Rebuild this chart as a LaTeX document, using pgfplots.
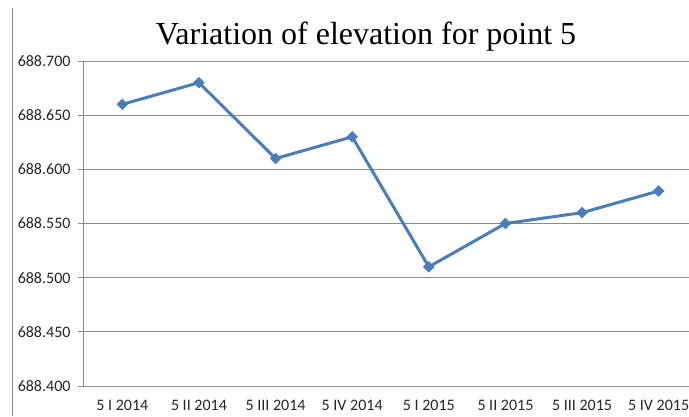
\documentclass[border=0pt]{standalone}
\usepackage{pgfplots}
\pgfplotsset{compat=1.18}
\usepackage{fontspec}
\setmainfont{Liberation Serif}
\newfontfamily\calib{Carlito}
\definecolor{lineblue}{HTML}{4A7EBB}
\definecolor{gridgray}{HTML}{8C8C8C}
\begin{document}
\begin{tikzpicture}[x=1pt,y=1pt]
\useasboundingbox (0,0) rectangle (689,416);
\clip (0,0) rectangle (689,416);
\fill[white] (0,0) rectangle (689,416);
\draw[gridgray,line width=1pt] (12,0) -- (12,408);
\node[anchor=base,font=\fontsize{32}{36}\selectfont] at (366,371) {Variation of elevation for point 5};
\begin{axis}[
  at={(84pt,30pt)}, anchor=south west,
  scale only axis, width=613pt, height=325pt,
  xmin=-0.5, xmax=7.5, ymin=688.4, ymax=688.7,
  axis x line*=bottom, axis y line*=left,
  axis line style={gridgray,line width=1pt},
  ytick={688.40,688.45,688.50,688.55,688.60,688.65,688.70},
  y tick label style={/pgf/number format/fixed,/pgf/number format/fixed zerofill,/pgf/number format/precision=3,/pgf/number format/1000 sep={},xshift=-4pt},
  /pgf/number format/assume math mode=true,
  ymajorgrids, grid style={gridgray,line width=1pt},
  major tick length=6pt,
  tick align=outside,
  tick style={gridgray,line width=1pt},
  xtick={0,...,7},
  xticklabels={5 I 2014,5 II 2014,5 III 2014,5 IV 2014,5 I 2015,5 II 2015,5 III 2015,5 IV 2015},
  x tick style={draw=none},
  extra x ticks={-0.5,0.5,1.5,2.5,3.5,4.5,5.5,6.5,7.5},
  extra x tick labels={},
  extra x tick style={tick style={gridgray,line width=1pt},major tick length=6pt,grid=none},
  ticklabel style={font=\calib\fontsize{16}{18}\selectfont, text=black!85},
  x tick label style={yshift=-5pt},
  clip=false,
]
\addplot[lineblue, line width=3pt, mark=square*, mark size=3.8pt, mark options={fill=lineblue,line width=0.5pt,rotate=45}]
coordinates {(0,688.66) (1,688.68) (2,688.61) (3,688.63) (4,688.51) (5,688.55) (6,688.56) (7,688.58)};
\end{axis}
\end{tikzpicture}
\end{document}
